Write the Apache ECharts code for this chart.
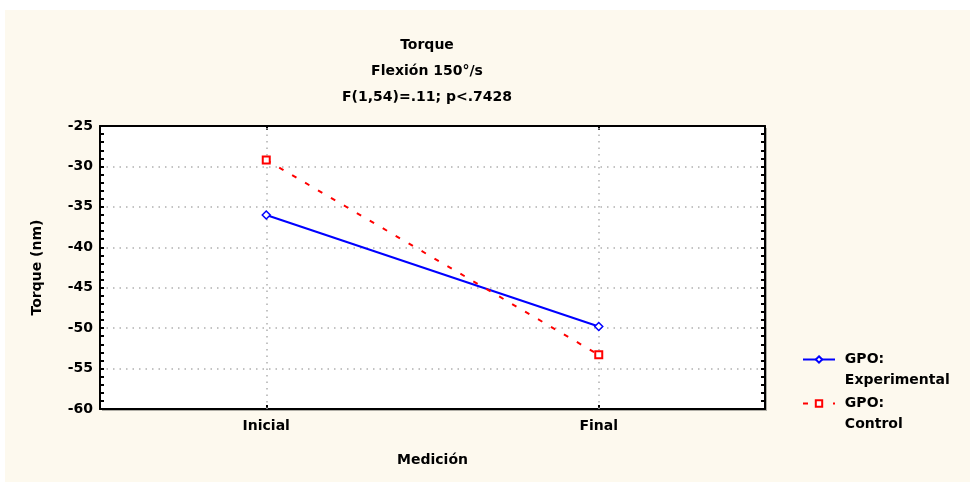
<!DOCTYPE html>
<html><head><meta charset="utf-8">
<script src="https://cdn.jsdelivr.net/npm/echarts@6/dist/echarts.min.js"></script>
<style>
html,body{margin:0;padding:0;background:#fff;}
#bg{position:absolute;left:5px;top:10px;width:965px;height:472px;background:#fdf9ee;}
#chart{position:absolute;left:0;top:0;width:970px;height:482px;}
</style></head>
<body>
<div id="bg"></div>
<div id="chart"></div>
<script>
const categories = ['Inicial', 'Final'];
const experimental = [-36.0, -49.8];
const control = [-29.2, -53.3];
const seriesNames = ['GPO:\nExperimental', 'GPO:\nControl'];
const titleLines = ['Torque', 'Flexión 150°/s', 'F(1,54)=.11; p<.7428'];
const yMin = -60, yMax = -25, yStep = 5;

const font = 'DejaVu Sans, sans-serif';
const fw = 'bold';
const fs = 14;
const gridDot = {color: '#b0b0b0', type: [1.5, 5], width: 1.5};
const frame = {show: true, onZero: false, lineStyle: {color: '#000', width: 2}};
const chart = echarts.init(document.getElementById('chart'));
chart.setOption({
  backgroundColor: 'transparent',
  animation: false,
  textStyle: {fontFamily: font, fontWeight: fw},
  title: {
    text: titleLines.join('\n'),
    left: 422, top: 27, textAlign: 'center',
    textStyle: {fontSize: fs, fontWeight: fw, color: '#000', lineHeight: 26, fontFamily: font}
  },
  grid: {
    left: 100, top: 126, width: 665, height: 283,
    show: true, backgroundColor: '#fff', borderWidth: 0,
    shadowColor: 'rgba(0,0,0,0.3)', shadowOffsetX: 2, shadowOffsetY: 2, shadowBlur: 0
  },
  legend: {
    orient: 'vertical', left: 797, top: 323,
    itemWidth: 32, itemHeight: 8, itemGap: -19,
    data: seriesNames,
    formatter: name => '\n' + name.split('\n').map(s => ' ' + s).join('\n'),
    textStyle: {fontSize: fs, fontWeight: fw, color: '#000', lineHeight: 21, fontFamily: font}
  },
  xAxis: [{
    type: 'category', data: categories, boundaryGap: true,
    name: 'Medición', nameLocation: 'middle', nameGap: 44,
    nameTextStyle: {fontSize: fs, fontWeight: fw, color: '#000', fontFamily: font},
    axisLine: frame,
    axisTick: {show: true, inside: true, alignWithLabel: true, length: 4, lineStyle: {color: '#000', width: 2}},
    axisLabel: {fontSize: fs, fontWeight: fw, color: '#000', margin: 10, fontFamily: font},
    splitLine: {show: false}
  }, {
    type: 'category', data: categories, boundaryGap: true, position: 'top',
    axisLine: frame,
    axisTick: {show: true, inside: true, alignWithLabel: true, length: 4, lineStyle: {color: '#000', width: 2}},
    axisLabel: {show: false}, splitLine: {show: false}
  }],
  yAxis: [{
    type: 'value', min: yMin, max: yMax, interval: yStep,
    name: 'Torque (nm)', nameLocation: 'middle', nameGap: 56,
    nameTextStyle: {fontSize: fs, fontWeight: fw, color: '#000', fontFamily: font},
    axisLine: frame,
    axisTick: {show: true, inside: true, length: 4, lineStyle: {color: '#000', width: 2}},
    minorTick: {show: true, splitNumber: 5, length: 4, lineStyle: {color: '#000', width: 2}},
    axisLabel: {fontSize: fs, fontWeight: fw, color: '#000', margin: 7, fontFamily: font},
    splitLine: {show: true, lineStyle: gridDot}
  }, {
    type: 'value', min: yMin, max: yMax, interval: yStep, position: 'right',
    axisLine: frame,
    axisTick: {show: true, inside: true, length: 4, lineStyle: {color: '#000', width: 2}},
    minorTick: {show: true, splitNumber: 5, length: 4, lineStyle: {color: '#000', width: 2}},
    axisLabel: {show: false}, splitLine: {show: false}
  }],
  series: [{
    name: seriesNames[0], type: 'line', data: experimental,
    symbol: 'diamond', symbolSize: 8,
    itemStyle: {color: '#fff', borderColor: '#0000ff', borderWidth: 1.5},
    lineStyle: {color: '#0000ff', width: 2}, z: 3,
    markLine: {
      silent: true, symbol: 'none', label: {show: false},
      lineStyle: gridDot, z: 1,
      data: categories.map(c => ({xAxis: c}))
    }
  }, {
    name: seriesNames[1], type: 'line', data: control,
    symbol: 'rect', symbolSize: 7,
    itemStyle: {color: '#fff', borderColor: '#ff0000', borderWidth: 2},
    lineStyle: {color: '#ff0000', width: 2, type: [5, 10]}, z: 4
  }]
});
</script>
</body></html>
